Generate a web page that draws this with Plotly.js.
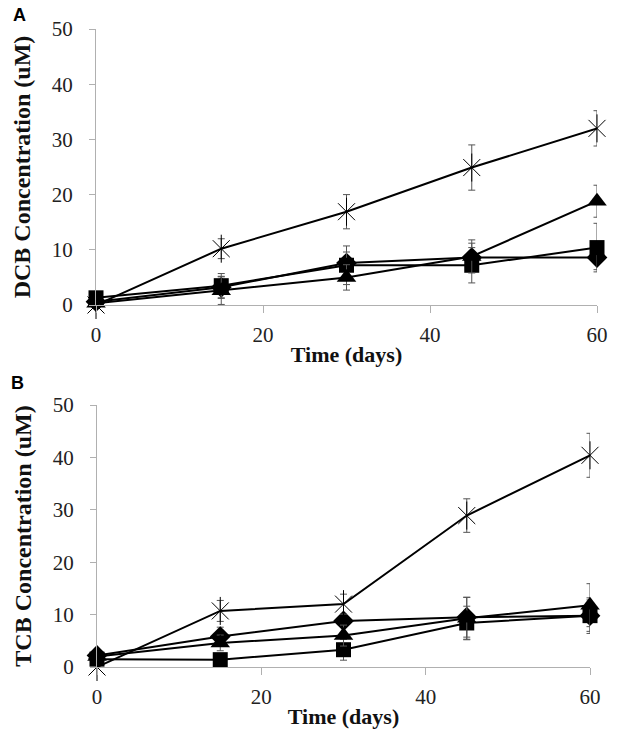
<!DOCTYPE html>
<html><head><meta charset="utf-8">
<script src="https://cdn.plot.ly/plotly-3.0.1.min.js"></script>
<style>html,body{margin:0;padding:0;background:#fff}#chart{width:618px;height:739px}</style>
</head><body><div id="chart"></div>
<script>
const days = [0, 15, 30, 45, 60];
// Panel A: DCB
const dcbStar = [0, 10.2, 16.9, 24.9, 32.0];
const dcbStarErr = [0, 1.8, 3.1, 4.1, 3.2];
const dcbTri = [0.3, 2.6, 5.0, 8.8, 18.8];
const dcbTriErr = [0.3, 2.5, 2.3, 3.0, 2.9];
const dcbSq = [1.3, 3.5, 7.2, 7.2, 10.4];
const dcbSqErr = [0.5, 2.2, 3.5, 3.2, 4.4];
const dcbDia = [0.6, 3.2, 7.6, 8.6, 8.6];
const dcbDiaErr = [0.3, 2.0, 2.0, 2.6, 2.2];
// Panel B: TCB
const tcbStar = [0, 10.7, 12.0, 28.9, 40.4];
const tcbStarErr = [0, 2.0, 1.9, 3.2, 4.2];
const tcbDia = [2.2, 5.8, 8.8, 9.5, 9.8];
const tcbDiaErr = [0.3, 1.8, 1.0, 3.8, 3.0];
const tcbTri = [2.0, 4.6, 6.0, 9.3, 11.8];
const tcbTriErr = [0.5, 1.5, 2.0, 4.0, 4.1];
const tcbSq = [1.5, 1.4, 3.3, 8.4, 9.8];
const tcbSqErr = [0.5, 0.5, 2.0, 3.2, 3.4];

const xTicks = [0, 20, 40, 60];
const yTicks = [0, 10, 20, 30, 40, 50];

function series(y, err, sym, size, xa, ya, showLine) {
  const open = sym.indexOf('open') >= 0;
  return {
    x: days, y: y, xaxis: xa, yaxis: ya, type: 'scatter',
    mode: showLine ? 'lines+markers' : 'markers',
    cliponaxis: false,
    line: {color: '#000', width: 2},
    marker: {symbol: sym, size: size, color: '#000',
      line: {color: open ? '#444' : '#000', width: open ? 1 : 0}},
    error_y: err ? {type: 'data', array: err, visible: true, color: '#555', thickness: 1, width: 3.5} : {visible: false},
    showlegend: false, hoverinfo: 'skip'
  };
}

const data = [
  series(dcbDia, dcbDiaErr, 'diamond', 16, 'x', 'y', true),
  series(dcbSq, dcbSqErr, 'square', 15, 'x', 'y', true),
  series(dcbTri, dcbTriErr, 'triangle-up', 17, 'x', 'y', true),
  series(dcbStar, dcbStarErr, 'x-thin-open', 17, 'x', 'y', true),
  series(dcbStar, null, 'line-ns-open', 20, 'x', 'y', false),
  series(tcbDia, tcbDiaErr, 'diamond', 16, 'x2', 'y2', true),
  series(tcbSq, tcbSqErr, 'square', 15, 'x2', 'y2', true),
  series(tcbTri, tcbTriErr, 'triangle-up', 17, 'x2', 'y2', true),
  series(tcbStar, tcbStarErr, 'x-thin-open', 17, 'x2', 'y2', true),
  series(tcbStar, null, 'line-ns-open', 20, 'x2', 'y2', false)
];

const serif = 'Liberation Serif, Times New Roman, serif';
const tickFont = {family: serif, size: 21, color: '#222'};
const xTitleFont = {family: serif, size: 22, color: '#111', weight: 'bold'};
const yTitleFont = {family: serif, size: 24, color: '#111', weight: 'bold'};

function xaxis(domain, anchor) {
  return {domain: domain, anchor: anchor, range: [0, 60], tickvals: xTicks, ticktext: xTicks.map(String),
    showgrid: false, zeroline: false, showline: true, linecolor: '#b0b0b0', linewidth: 1,
    ticks: 'outside', ticklen: 7, tickcolor: '#b0b0b0', tickfont: tickFont, ticklabelstandoff: 4,
    title: {text: '<b>Time (days)</b>', font: xTitleFont, standoff: 0}};
}
function yaxis(domain, anchor, title) {
  return {domain: domain, anchor: anchor, range: [0, 50], tickvals: yTicks, ticktext: yTicks.map(String),
    showgrid: false, zeroline: false, showline: true, linecolor: '#b0b0b0', linewidth: 1,
    ticks: 'outside', ticklen: 6, tickcolor: '#b0b0b0', tickfont: tickFont, ticklabelstandoff: 12,
    title: {text: '<b>' + title + '</b>', font: yTitleFont, standoff: 14}};
}

const layout = {
  width: 618, height: 739,
  margin: {l: 0, r: 0, t: 0, b: 0},
  paper_bgcolor: '#fff', plot_bgcolor: '#fff',
  xaxis: xaxis([96/618, 597/618], 'y'),
  yaxis: yaxis([(739-305)/739, (739-29)/739], 'x', 'DCB Concentration (uM)'),
  xaxis2: xaxis([97/618, 590/618], 'y2'),
  yaxis2: yaxis([(739-667)/739, (739-405)/739], 'x2', 'TCB Concentration (uM)'),
  annotations: [
    {text: '<b>A</b>', x: 11/618, y: 1 - 15/739, xref: 'paper', yref: 'paper', xanchor: 'left', yanchor: 'middle', showarrow: false,
      font: {family: 'Liberation Sans, Arial, sans-serif', size: 18, color: '#000'}},
    {text: '<b>B</b>', x: 9/618, y: 1 - 383/739, xref: 'paper', yref: 'paper', xanchor: 'left', yanchor: 'middle', showarrow: false,
      font: {family: 'Liberation Sans, Arial, sans-serif', size: 18, color: '#000'}}
  ]
};

Plotly.newPlot('chart', data, layout, {staticPlot: true, displayModeBar: false});
</script>
</body></html>
